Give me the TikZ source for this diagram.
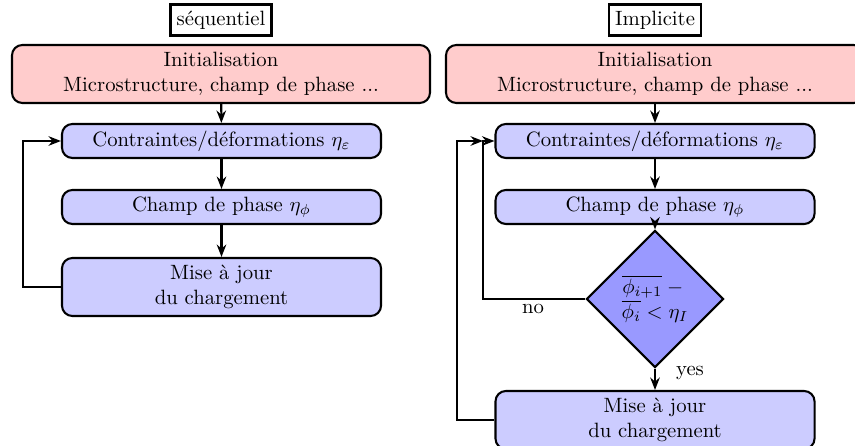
\documentclass[tikz,border=0pt]{standalone}
\usetikzlibrary{shapes.geometric,arrows.meta}
\begin{document}
\begin{tikzpicture}[x=0.483pt,y=-0.483pt,
  every node/.style={inner sep=2pt},
  titlebox/.style={draw,line width=1.1pt,inner sep=3pt},
  initbox/.style={draw,line width=1pt,rounded corners=5pt,fill=red!20,minimum width=201.9pt,minimum height=28pt,align=center},
  stepbox/.style={draw,line width=1pt,rounded corners=5pt,fill=blue!20,minimum width=154.1pt,minimum height=16.4pt,align=center},
  misebox/.style={stepbox,minimum height=28pt},
  decision/.style={draw,line width=1pt,diamond,fill=blue!40,minimum width=66.2pt,minimum height=66.2pt,inner sep=0pt,align=center},
  conn/.style={line width=1pt,-{Stealth[length=6pt,width=4.6pt]}}]
\useasboundingbox (0,0) rectangle (855,446);
% left column
\node[titlebox] (seq) at (221,20) {séquentiel};
\node[initbox] (initL) at (221,74) {Initialisation\\Microstructure, champ de phase ...};
\node[stepbox] (contL) at (221.5,141) {Contraintes/déformations $\eta_\varepsilon$};
\node[stepbox] (champL) at (221.5,207) {Champ de phase $\eta_\phi$};
\node[misebox] (miseL) at (221.5,287) {Mise à jour\\du chargement};
\coordinate (lb) at (23,287);
\coordinate (lt) at (23,141);
\draw[conn] (initL) -- (contL);
\draw[conn] (contL) -- (champL);
\draw[conn] (champL) -- (miseL);
\draw[conn] (miseL.west) -- (lb) -- (lt) -- (contL.west);
% right column
\node[titlebox] (imp) at (655,20) {Implicite};
\node[initbox] (initR) at (655,74) {Initialisation\\Microstructure, champ de phase ...};
\node[stepbox] (contR) at (655,141) {Contraintes/déformations $\eta_\varepsilon$};
\node[stepbox] (champR) at (655,207) {Champ de phase $\eta_\phi$};
\node[decision] (dec) at (655,299) {$\overline{\phi_{i+1}}-{}$\\$\overline{\phi_i}<\eta_I$};
\node[misebox] (miseR) at (655,420) {Mise à jour\\du chargement};
\draw[conn] (initR) -- (contR);
\draw[conn] (contR) -- (champR);
\draw[conn] (champR) -- (dec);
\draw[conn] (dec) -- (miseR);
\coordinate (ib) at (483,299);
\coordinate (it) at (483,141);
\coordinate (ob) at (457,420);
\coordinate (ot) at (457,141);
\draw[conn] (dec.west) -- (ib) -- (it) -- (contR.west);
\draw[conn] (miseR.west) -- (ob) -- (ot) -- (it);
\node (no) at (533,309) {no};
\node (yes) at (690,373) {yes};
\end{tikzpicture}
\end{document}
